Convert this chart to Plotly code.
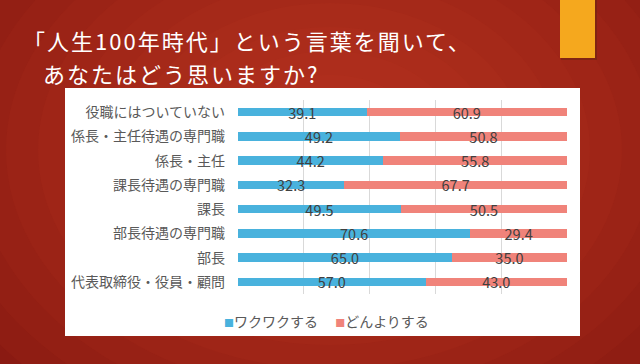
import plotly.graph_objects as go

categories = ["役職にはついていない", "係長・主任待遇の専門職", "係長・主任", "課長待遇の専門職",
              "課長", "部長待遇の専門職", "部長", "代表取締役・役員・顧問"]
waku = [39.1, 49.2, 44.2, 32.3, 49.5, 70.6, 65.0, 57.0]
donyori = [60.9, 50.8, 55.8, 67.7, 50.5, 29.4, 35.0, 43.0]
series_names = ["ワクワクする", "どんよりする"]
x_ticks = [0, 20, 40, 60, 80, 100]
title_lines = ["「人生100年時代」という言葉を聞いて、", "あなたはどう思いますか?"]

W, H = 640, 364
ML, MR, MT, MB = 238, 73, 100, 70
PW, PH = W - ML - MR, H - MT - MB

def px(x):
    return (x - ML) / PW

def py(y):
    return (H - MB - y) / PH

BLUE = "#49B2DD"
SALMON = "#F0837A"
FONT = "Noto Sans CJK JP"
colors = [BLUE, SALMON]

fig = go.Figure()
for name, vals, col in zip(series_names, [waku, donyori], colors):
    fig.add_trace(go.Bar(y=categories, x=vals, orientation="h", name=name,
                         marker=dict(color=col, line=dict(width=0)),
                         text=[f"{v:.1f}" for v in vals], textposition="inside",
                         insidetextanchor="middle", constraintext="none",
                         textfont=dict(color="#404040", size=14.5, family=FONT),
                         showlegend=False))

shapes = []
# background glow
n = 12
for i in range(n):
    r = 420 - i * 32
    cx, cy = 330, 150
    shapes.append(dict(type="circle", xref="paper", yref="paper",
                       x0=px(cx - r), x1=px(cx + r), y0=py(cy + r * 0.75), y1=py(cy - r * 0.75),
                       fillcolor="#D9492A", opacity=0.07, line=dict(width=0), layer="below"))
# white panel
shapes.append(dict(type="rect", xref="paper", yref="paper",
                   x0=px(65), x1=px(580), y0=py(336), y1=py(88),
                   fillcolor="white", line=dict(width=0), layer="below"))
# orange block with shadow
shapes.append(dict(type="rect", xref="paper", yref="paper",
                   x0=px(561), x1=px(597), y0=py(60), y1=py(-5),
                   fillcolor="#6E2410", opacity=0.6, line=dict(width=0), layer="below"))
shapes.append(dict(type="rect", xref="paper", yref="paper",
                   x0=px(560), x1=px(595), y0=py(58), y1=py(-5),
                   fillcolor="#F5A81E", line=dict(width=0), layer="below"))

legend_text = "".join(
    f"<span style='color:{c};font-size:10px'>■</span>{n}" + ("　 " if i == 0 else "")
    for i, (n, c) in enumerate(zip(series_names, colors))
)

annotations = [
    dict(text=f"<span style='letter-spacing:2px'>{title_lines[0]}</span>", xref="paper", yref="paper",
         x=px(21), y=py(40.5), xanchor="left", yanchor="middle", align="left",
         showarrow=False, font=dict(color="white", size=22, family=FONT)),
    dict(text=f"<span style='letter-spacing:2px'>{title_lines[1]}</span>", xref="paper", yref="paper",
         x=px(41), y=py(72.5), xanchor="left", yanchor="middle", align="left",
         showarrow=False, font=dict(color="white", size=22, family=FONT)),
    dict(text=legend_text, xref="paper", yref="paper",
         x=px(222), y=py(321), xanchor="left", yanchor="middle", showarrow=False,
         font=dict(color="#595959", size=14, family=FONT)),
]

fig.update_layout(
    width=W, height=H,
    margin=dict(l=ML, r=MR, t=MT, b=MB, pad=0),
    paper_bgcolor="#8A1A12",
    plot_bgcolor="rgba(0,0,0,0)",
    barmode="stack",
    bargap=0.64,
    shapes=shapes,
    annotations=annotations,
    showlegend=False,
    font=dict(family=FONT, color="#595959", size=14),
    xaxis=dict(range=[0, 100], tickvals=x_ticks, showticklabels=False,
               showgrid=True, gridcolor="#D9D9D9", gridwidth=1, zeroline=False,
               showline=False, fixedrange=True),
    yaxis=dict(autorange="reversed", showgrid=False, showline=False, zeroline=False,
               ticks="", ticklabelstandoff=12, fixedrange=True,
               tickfont=dict(size=14, color="#595959", family=FONT)),
)

fig.write_html("out.html", config={"displayModeBar": False},
               post_script="document.body.style.margin='0';document.body.style.overflow='hidden';")
